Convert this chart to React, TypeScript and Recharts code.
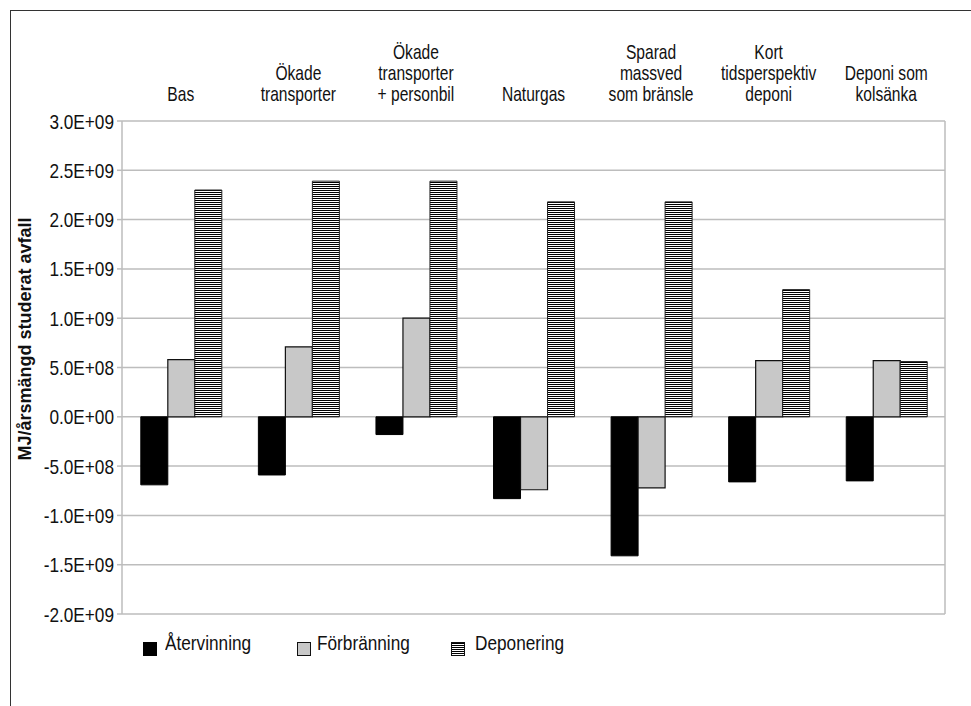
import { BarChart, Bar, XAxis, YAxis, CartesianGrid, Legend } from "recharts";

const SANS = "'Liberation Sans', Arial, sans-serif";
// horizontal squeeze to get the narrow Arial look
const SQUEEZE = 0.82;
const HEAD_SQUEEZE = 0.78;

// scenario names, one entry per text line
const categories = [
  ["Bas"],
  ["Ökade", "transporter"],
  ["Ökade", "transporter", "+ personbil"],
  ["Naturgas"],
  ["Sparad", "massved", "som bränsle"],
  ["Kort", "tidsperspektiv", "deponi"],
  ["Deponi som", "kolsänka"],
];

const atervinning = [-6.9e8, -5.9e8, -1.8e8, -8.3e8, -1.41e9, -6.6e8, -6.5e8];
const forbranning = [5.8e8, 7.1e8, 1.0e9, -7.4e8, -7.2e8, 5.7e8, 5.7e8];
const deponering = [2.3e9, 2.39e9, 2.39e9, 2.18e9, 2.18e9, 1.29e9, 5.6e8];

const yTicks = [3e9, 2.5e9, 2e9, 1.5e9, 1e9, 5e8, 0, -5e8, -1e9, -1.5e9, -2e9];

const data = categories.map((lines, i) => ({
  name: lines.join(" "),
  ater: atervinning[i],
  forb: forbranning[i],
  depo: deponering[i],
}));

// Excel-style scientific notation, e.g. 2.5E+09
const sci = (v: number) => {
  if (v === 0) return "0.0E+00";
  const exp = Math.floor(Math.log10(Math.abs(v)));
  const mant = (v / Math.pow(10, exp)).toFixed(1);
  const sign = exp < 0 ? "-" : "+";
  return `${mant}E${sign}${String(Math.abs(exp)).padStart(2, "0")}`;
};

const CategoryTick = (props: any) => {
  const { x, payload, index } = props;
  const lines: string[] = categories[index] ?? [payload.value];
  const lastBaseline = 101;
  const lh = 21;
  return (
    <g transform={`translate(${x} 0)`}>
      <text transform={`scale(${HEAD_SQUEEZE} 1)`} textAnchor="middle" fontFamily={SANS} fontSize={20} fill="#111">
        {lines.map((l, i) => (
          <tspan key={i} x={0} y={lastBaseline - (lines.length - 1 - i) * lh}>
            {l}
          </tspan>
        ))}
      </text>
    </g>
  );
};

const ValueTick = (props: any) => {
  const { x, y, payload } = props;
  return (
    <g transform={`translate(${x} ${y})`}>
      <text transform={`scale(${SQUEEZE} 1)`} textAnchor="end" dy="0.36em" fontFamily={SANS} fontSize={21} fill="#111">
        {sci(payload.value)}
      </text>
    </g>
  );
};

const swatch = { position: "absolute" as const, top: 28, width: 14, height: 14, boxSizing: "border-box" as const };
const legendText = {
  position: "absolute" as const,
  top: 18,
  fontFamily: SANS,
  fontSize: 21,
  lineHeight: "22px",
  color: "#111",
  whiteSpace: "nowrap" as const,
  transform: `scaleX(${SQUEEZE})`,
  transformOrigin: "left center",
};

const LegendBox = () => (
  <div style={{ position: "relative", width: 971, height: 50 }}>
    <div style={{ ...swatch, left: 143, background: "#000" }} />
    <span style={{ ...legendText, left: 165 }}>Återvinning</span>
    <div style={{ ...swatch, left: 297, background: "#c8c8c8", border: "1.5px solid #111" }} />
    <span style={{ ...legendText, left: 317 }}>Förbränning</span>
    <div
      style={{
        ...swatch,
        left: 451,
        border: "1px solid #111",
        background: "repeating-linear-gradient(#000 0 1px, #fff 1px 2px)",
      }}
    />
    <span style={{ ...legendText, left: 475 }}>Deponering</span>
  </div>
);

export default function App() {
  return (
    <div style={{ position: "absolute", left: 0, top: 0, width: 971, height: 706, background: "#fff", overflow: "hidden" }}>
      <div
        style={{
          position: "absolute",
          left: 10,
          top: 10,
          width: 980,
          height: 720,
          borderTop: "1.5px solid #333",
          borderLeft: "1.5px solid #333",
        }}
      />
      <BarChart
        width={971}
        height={706}
        data={data}
        margin={{ top: 0, right: 26, bottom: 42, left: 0 }}
        barCategoryGap="16%"
        barGap={0}
      >
        <defs>
          <pattern id="hstripes" width="4" height="2" patternUnits="userSpaceOnUse">
            <rect width="4" height="2" fill="#fff" />
            <rect width="4" height="1" fill="#000" />
          </pattern>
        </defs>
        <CartesianGrid stroke="#bdbdbd" strokeWidth={1.5} verticalPoints={[122, 945]} />
        <XAxis
          dataKey="name"
          orientation="top"
          height={121}
          axisLine={false}
          tickLine={false}
          interval={0}
          tick={<CategoryTick />}
        />
        <YAxis
          width={122}
          domain={[-2e9, 3e9]}
          ticks={yTicks}
          interval={0}
          axisLine={false}
          tickLine={{ stroke: "#bdbdbd", strokeWidth: 1.5 }}
          tickSize={5}
          tickMargin={3}
          tick={<ValueTick />}
          label={() => (
            <text
              x={31}
              y={339}
              transform="rotate(-90 31 339)"
              textAnchor="middle"
              fontFamily={SANS}
              fontWeight="bold"
              fontSize={18}
              fill="#111"
            >
              MJ/årsmängd studerat avfall
            </text>
          )}
        />
        <Legend verticalAlign="bottom" wrapperStyle={{ left: 0, width: 971 }} content={() => <LegendBox />} />
        <Bar dataKey="ater" name="Återvinning" fill="#000" stroke="#000" isAnimationActive={false} />
        <Bar dataKey="forb" name="Förbränning" fill="#c8c8c8" stroke="#111" strokeWidth={1.2} isAnimationActive={false} />
        <Bar dataKey="depo" name="Deponering" fill="url(#hstripes)" stroke="#222" strokeWidth={1} isAnimationActive={false} />
      </BarChart>
    </div>
  );
}
